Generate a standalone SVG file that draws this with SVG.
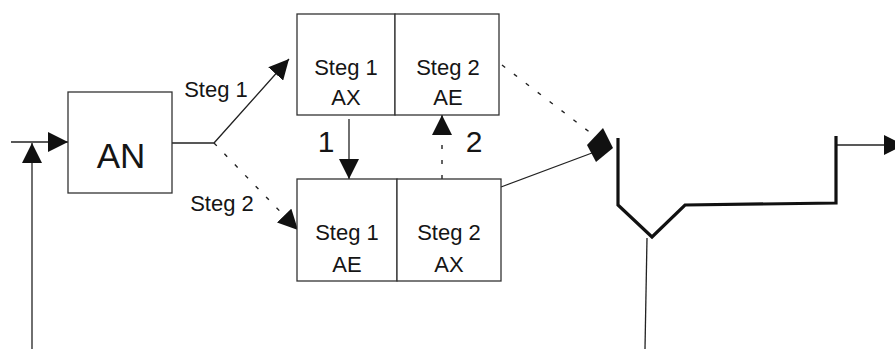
<svg xmlns="http://www.w3.org/2000/svg" width="895" height="349" viewBox="0 0 895 349">
<style>
  .box{fill:#fff;stroke:#333;stroke-width:1.3}
  .ln{fill:none;stroke:#222;stroke-width:1.3}
  .dash{fill:none;stroke:#222;stroke-width:1.4;stroke-dasharray:4 11}
  .thick{fill:none;stroke:#111;stroke-width:3.2;stroke-linejoin:miter}
  text{font-family:"Liberation Sans",Arial,sans-serif;fill:#151515;text-anchor:middle}
  .t{font-size:22px}
  .big{font-size:35px}
  .num{font-size:30px}
</style>
<defs>
  <marker id="ah" viewBox="0 0 20 20" refX="20" refY="10" markerWidth="20" markerHeight="20" markerUnits="userSpaceOnUse" orient="auto">
    <path d="M0,0 L20,10 L0,20 z" fill="#111"/>
  </marker>
</defs>
<rect width="895" height="349" fill="#fff"/>

<g id="connectors">
  <line class="ln" x1="11" y1="142" x2="68" y2="142" marker-end="url(#ah)"/>
  <line class="ln" x1="32" y1="349" x2="32" y2="143" marker-end="url(#ah)"/>
  <polyline class="ln" points="172,143 214,143 289,59" marker-end="url(#ah)"/>
  <line class="dash" x1="214" y1="143" x2="298" y2="230" marker-end="url(#ah)"/>
  <line class="ln" x1="349" y1="119" x2="349" y2="179" marker-end="url(#ah)"/>
  <line class="dash" x1="442" y1="179" x2="442" y2="115" marker-end="url(#ah)"/>
  <line class="dash" x1="502" y1="65" x2="592" y2="134"/>
  <line class="ln" x1="501" y1="187" x2="592" y2="153"/>
  <polygon points="587,145 603,128 613,148 596,162" fill="#111"/>
  <line class="ln" x1="836" y1="145" x2="904" y2="145" marker-end="url(#ah)"/>
  <line class="ln" x1="647" y1="238" x2="645" y2="349"/>
</g>

<g id="node-AN">
  <rect class="box" x="68" y="92" width="104" height="101"/>
  <text class="big" x="121" y="168">AN</text>
</g>

<g id="node-upper">
  <rect class="box" x="297" y="14" width="98" height="101"/>
  <rect class="box" x="395" y="14" width="104" height="101"/>
  <text class="t" x="346" y="75">Steg 1</text>
  <text class="t" x="346" y="105">AX</text>
  <text class="t" x="448" y="75">Steg 2</text>
  <text class="t" x="448" y="105">AE</text>
</g>

<g id="node-lower">
  <rect class="box" x="297" y="179" width="100" height="102"/>
  <rect class="box" x="397" y="179" width="104" height="102"/>
  <text class="t" x="347" y="240">Steg 1</text>
  <text class="t" x="347" y="272">AE</text>
  <text class="t" x="449" y="240">Steg 2</text>
  <text class="t" x="449" y="272">AX</text>
</g>

<g id="node-clarifier">
  <polyline class="thick" points="618,138 618,205 652,237 685,205 836,203 836,136"/>
</g>

<g id="labels">
  <text class="t" x="216" y="97">Steg 1</text>
  <text class="t" x="222" y="211">Steg 2</text>
  <text class="num" x="326" y="152">1</text>
  <text class="num" x="474" y="152">2</text>
</g>
</svg>
